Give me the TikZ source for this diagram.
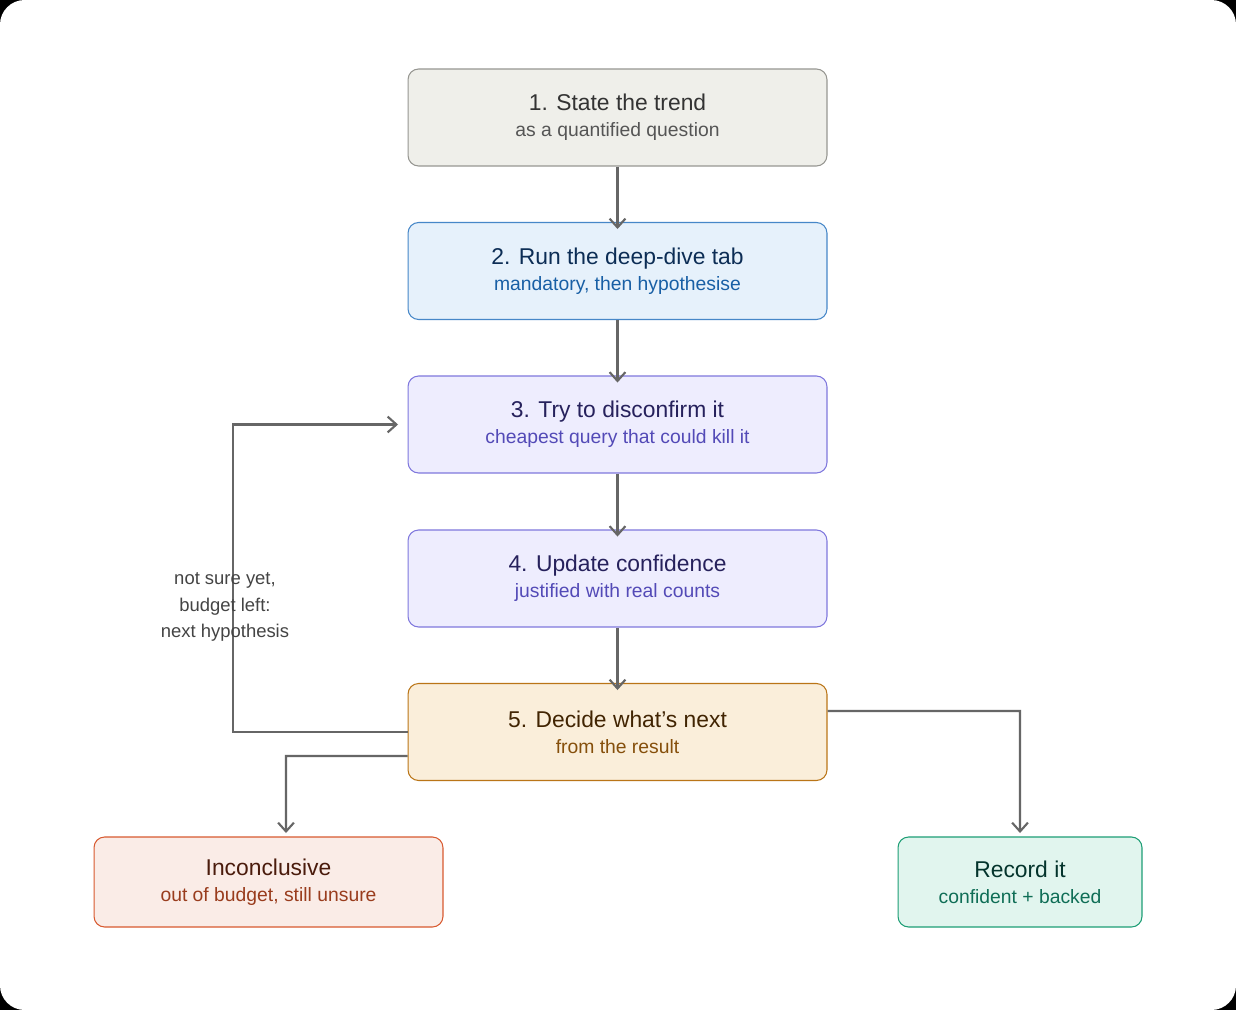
\documentclass[tikz,border=0pt]{standalone}
\usepackage{fontspec}
\setmainfont{Liberation Sans}
\usetikzlibrary{arrows.meta}
\definecolor{linegray}{HTML}{666666}
\tikzset{
  box/.style={draw, rounded corners=6pt, line width=0.6pt, minimum height=1.94cm, align=center, inner sep=0pt},
  flow/.style={draw=linegray, line width=1.2pt, -{Straight Barb[length=5pt,width=9pt]}},
}
\newcommand{\boxtext}[4]{{\color[HTML]{#1}\fontsize{13}{16}\selectfont #3}\\[3pt]{\color[HTML]{#2}\fontsize{11}{14}\selectfont #4}}
\begin{document}
\begin{tikzpicture}[x=0.02cm,y=-0.02cm]
  \fill[black] (0,0) rectangle (1236,1010);
  \fill[white, rounded corners=14pt] (0,0) rectangle (1236,1010);
  % main column
  \node[box, fill={rgb,255:red,239;green,239;blue,234}, draw={rgb,255:red,150;green,150;blue,145}, minimum width=8.38cm] (state) at (617.5,117.5) {\boxtext{333333}{555555}{1. State the trend}{as a quantified question}};
  \node[box, fill={rgb,255:red,230;green,241;blue,251}, draw={rgb,255:red,70;green,135;blue,200}, minimum width=8.38cm] (run) at (617.5,271) {\boxtext{0C2D55}{185FA5}{2. Run the deep-dive tab}{mandatory, then hypothesise}};
  \node[box, fill={rgb,255:red,238;green,237;blue,254}, draw={rgb,255:red,127;green,119;blue,221}, minimum width=8.38cm] (try) at (617.5,424.5) {\boxtext{26215C}{534AB7}{3. Try to disconfirm it}{cheapest query that could kill it}};
  \node[box, fill={rgb,255:red,238;green,237;blue,254}, draw={rgb,255:red,127;green,119;blue,221}, minimum width=8.38cm] (update) at (617.5,578.5) {\boxtext{26215C}{534AB7}{4. Update confidence}{justified with real counts}};
  \node[box, fill={rgb,255:red,250;green,238;blue,218}, draw={rgb,255:red,186;green,117;blue,23}, minimum width=8.38cm] (decide) at (617.5,732) {\boxtext{412402}{854F0B}{5. Decide what's next}{from the result}};
  % outcomes
  \node[box, fill={rgb,255:red,250;green,236;blue,231}, draw={rgb,255:red,216;green,90;blue,48}, minimum width=6.98cm, minimum height=1.8cm] (incon) at (268.5,882) {\boxtext{4A1B0C}{993C1D}{Inconclusive}{out of budget, still unsure}};
  \node[box, fill={rgb,255:red,225;green,245;blue,238}, draw={rgb,255:red,29;green,158;blue,117}, minimum width=4.88cm, minimum height=1.8cm] (record) at (1020,882) {\boxtext{04342C}{0F6E56}{Record it}{confident + backed}};
  \coordinate (loopend) at (398,424.5);
  \coordinate (inconin) at (286,833);
  \coordinate (recordin) at (1020,833);
  \draw[flow] (state) -- ([yshift=-4pt]run.north);
  \draw[flow] (run) -- ([yshift=-4pt]try.north);
  \draw[flow] (try) -- ([yshift=-4pt]update.north);
  \draw[flow] (update) -- ([yshift=-4pt]decide.north);
  \draw[flow] (decide.west) -- (233,732) -- (233,424.5) -- (loopend);
  \draw[flow] ([yshift=-0.48cm]decide.west) -- (286,756) -- (inconin);
  \draw[flow] ([yshift=0.42cm]decide.east) -- (1020,711) -- (recordin);
  \node[align=center, text={rgb,255:red,68;green,68;blue,68}, font=\fontsize{10.5}{15}\selectfont] (retry) at (225,607) {not sure yet,\\budget left:\\next hypothesis};
\end{tikzpicture}
\end{document}
